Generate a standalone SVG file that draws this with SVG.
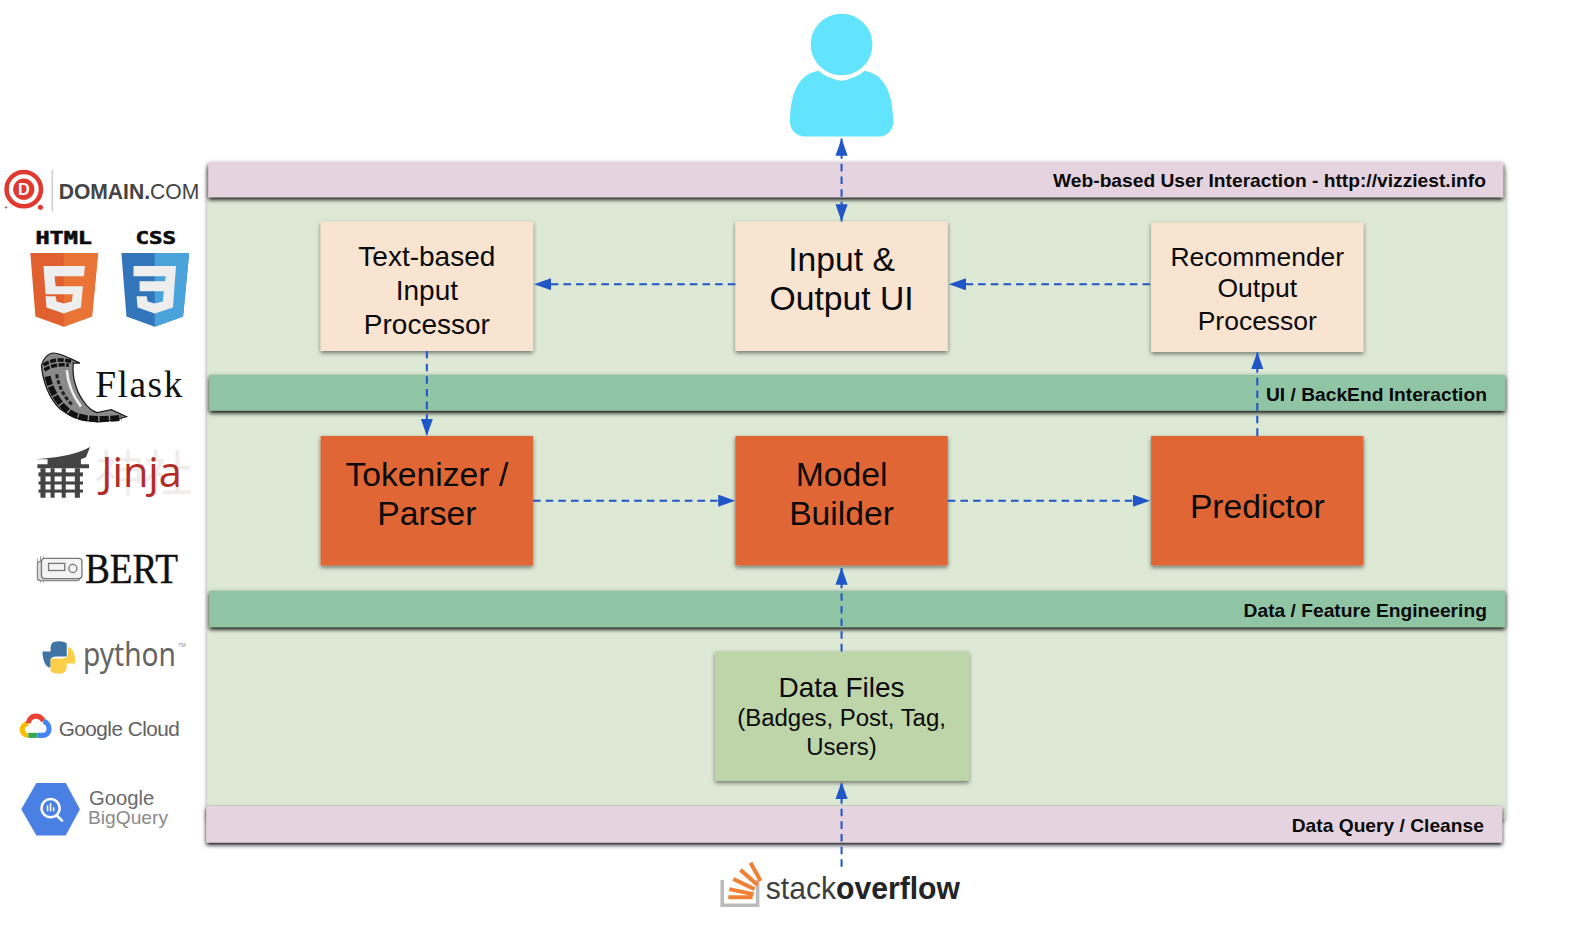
<svg xmlns="http://www.w3.org/2000/svg" width="1586" height="928" viewBox="0 0 1586 928">
<style>
text{font-family:"Liberation Sans",Arial,sans-serif;text-anchor:middle;fill:#0a0a0a}
.band{font-weight:bold;font-size:19px;text-anchor:end}
.n{font-size:27.700px}.l{font-size:33.300px}.m{font-size:26.200px}
.c{fill:none;stroke:#2156c9;stroke-width:2;stroke-dasharray:7.500 5}
.gl{fill:#616161;text-anchor:start}
</style>
<defs>
<filter id="sh" x="-5%" y="-10%" width="110%" height="125%"><feDropShadow dx="0" dy="2" stdDeviation="2.200" flood-color="#000" flood-opacity=".5"/></filter>
<filter id="bs" x="-2%" y="-20%" width="104%" height="150%"><feDropShadow dx="0" dy="2.200" stdDeviation="2.200" flood-color="#000" flood-opacity="1"/></filter>
<marker id="a" markerUnits="userSpaceOnUse" markerWidth="18" markerHeight="14" refX="17" refY="6" orient="auto-start-reverse"><path d="M0 0L17 6L0 12Z" fill="#2156c9"/></marker>
</defs>
<rect width="1586" height="928" fill="#fff"/>
<g transform="scale(1.0115)">
<g id="layer-background"><rect x="205" y="165" width="1283" height="645" fill="#dde8d5" filter="url(#sh)"/></g>
<g id="band-web"><rect x="206" y="160" width="1280" height="35" fill="#e5d3df" filter="url(#bs)"/><text class="band" x="1469" y="185">Web-based User Interaction - http://vizziest.info</text></g>
<g id="band-ui"><rect x="207" y="370.500" width="1281" height="35.500" fill="#8fc5a5" filter="url(#bs)"/><text class="band" x="1470" y="396.500">UI / BackEnd Interaction</text></g>
<g id="band-data"><rect x="207" y="584" width="1281" height="36" fill="#8fc5a5" filter="url(#bs)"/><text class="band" x="1470" y="610">Data / Feature Engineering</text></g>
<g id="band-query"><rect x="204" y="797" width="1281" height="36" fill="#e5d3df" filter="url(#bs)"/><text class="band" x="1467" y="823">Data Query / Cleanse</text></g>
<g id="user"><path d="M814 70C826 83 838 83 850 70C872 69 883 90 883 120C883 129 877 135 868 135H797C788 135 781 129 781 120C781 90 792 69 814 70Z" fill="#62e4fe"/><circle cx="832" cy="44" r="32.500" fill="#62e4fe" stroke="#fff" stroke-width="4"/></g>
<g id="text-input"><rect x="317" y="219" width="210" height="128" fill="#f8e4d0" filter="url(#sh)"/><text class="n" x="422" y="263">Text-based</text><text class="n" x="422" y="297">Input</text><text class="n" x="422" y="330">Processor</text></g>
<g id="io-ui"><rect x="727" y="219" width="210" height="128" fill="#f8e4d0" filter="url(#sh)"/><text class="l" x="832" y="268">Input &amp;</text><text class="l" x="832" y="306">Output UI</text></g>
<g id="rec-output"><rect x="1138" y="220" width="210" height="128" fill="#f8e4d0" filter="url(#sh)"/><text class="m" x="1243" y="263">Recommender</text><text class="m" x="1243" y="294">Output</text><text class="m" x="1243" y="326">Processor</text></g>
<g id="tokenizer"><rect x="317" y="431" width="210" height="128" fill="#e16634" filter="url(#sh)"/><text class="l" x="422" y="480">Tokenizer /</text><text class="l" x="422" y="519">Parser</text></g>
<g id="model"><rect x="727" y="431" width="210" height="128" fill="#e16634" filter="url(#sh)"/><text class="l" x="832" y="480">Model</text><text class="l" x="832" y="519">Builder</text></g>
<g id="predictor"><rect x="1138" y="431" width="210" height="128" fill="#e16634" filter="url(#sh)"/><text class="l" x="1243" y="512">Predictor</text></g>
<g id="data-files"><rect x="707" y="644" width="251" height="128" fill="#bdd5a8" filter="url(#sh)"/><text class="n" x="832" y="689">Data Files</text><text style="font-size:23.700px" x="832" y="718">(Badges, Post, Tag,</text><text style="font-size:23.700px" x="832" y="746">Users)</text></g>
<g id="connectors">
<path class="c" d="M832 137V219" marker-start="url(#a)" marker-end="url(#a)"/>
<path class="c" d="M727 281H528" marker-end="url(#a)"/>
<path class="c" d="M1137 281H938" marker-end="url(#a)"/>
<path class="c" d="M422 347V431" marker-end="url(#a)"/>
<path class="c" d="M1243 431V348" marker-end="url(#a)"/>
<path class="c" d="M527 495H727" marker-end="url(#a)"/>
<path class="c" d="M937 495H1137" marker-end="url(#a)"/>
<path class="c" d="M832 644V561" marker-end="url(#a)"/>
<path class="c" d="M832 857V773" marker-end="url(#a)"/>
</g>
<g id="logo-domain">
<circle cx="23.500" cy="187" r="17" fill="none" stroke="#e0392f" stroke-width="4.500"/><circle cx="23.500" cy="187" r="10.500" fill="#e0392f"/><text x="23.500" y="193" style="font-size:16px;font-weight:bold;fill:#fff">D</text><circle cx="40" cy="205" r="2.500" fill="#e0392f"/><circle cx="6" cy="205" r="1.200" fill="#888"/>
<rect x="51" y="168" width="1.500" height="41" fill="#ccc"/>
<text x="58" y="197" style="font-size:21px;font-weight:bold;fill:#444;text-anchor:start" textLength="139" lengthAdjust="spacingAndGlyphs">DOMAIN.<tspan font-weight="normal">COM</tspan></text>
</g>
<g id="logo-html"><text x="63" y="241" style="font-size:17px;font-weight:bold;font-family:'DejaVu Sans Mono',monospace;stroke:#111;stroke-width:.6px" textLength="56" lengthAdjust="spacingAndGlyphs">HTML</text>
<path d="M30 250H97L91 313L63 323L35 313Z" fill="#e0602f"/><path d="M63 250H97L91 313L63 323Z" fill="#ea7435"/>
<path d="M43 263H84L83 273H54L55 283H82L80 304L63 310L46 304L45 293H55L56 298L63 300L71 298L72 291H45Z" fill="#eee"/></g>
<g id="logo-css"><text x="154" y="241" style="font-size:17px;font-weight:bold;font-family:'DejaVu Sans Mono',monospace;stroke:#111;stroke-width:.6px" textLength="40" lengthAdjust="spacingAndGlyphs">CSS</text>
<path d="M120 250H187L181 313L153 323L125 313Z" fill="#3375ba"/><path d="M153 250H187L181 313L153 323Z" fill="#4ba3db"/>
<path d="M132 263H174L171 304L153 310L136 304L135 293H145L146 298L153 300L161 298L162 288H138V278H163L164 273H132Z" fill="#eee"/></g>
<g id="logo-flask">
<path d="M41 361C43 354 48 349 53 349C60 349 66 353 79 359L72.500 359C71 372 75 386 82 396C86 402 90 406 96 408L110 405L125 412C115 415 105 417 96 417C80 416 68 411 59 404C48 393 42 376 41 361Z" fill="#8a8a8a" stroke="#1a1a1a" stroke-width="1.200"/>
<path d="M43 361C50 356 60 354 72 358M44 366C50 361 60 360 68 361" fill="none" stroke="#111" stroke-width="3.500" stroke-dasharray="6 1.500"/>
<path d="M47 372C50 386 58 399 68 407C78 414 92 416 120 413" fill="none" stroke="#111" stroke-width="6" stroke-dasharray="9 1.500"/>
<path d="M56 370C58 382 63 392 72 401" fill="none" stroke="#222" stroke-width="3" stroke-dasharray="4 2"/>
<path d="M66 366C67 378 71 390 80 402" fill="none" stroke="#eee" stroke-width="2.500"/>
<text x="138" y="392" style="font-family:'Liberation Serif',serif;font-size:37px;fill:#111;letter-spacing:1.500px">Flask</text></g>
<g id="logo-jinja">
<text x="142" y="485" style="font-family:'Noto Sans CJK JP',sans-serif;font-size:48px;fill:#f1ecec">神社</text>
<path d="M35 454C50 453 74 451 89 442L85 452L80 454V459H88V463H37V459H47V454Z" fill="#444"/><rect x="38" y="467" width="44" height="4" fill="#444"/><rect x="38" y="476" width="44" height="3" fill="#444"/><rect x="38" y="484" width="44" height="3" fill="#444"/><path d="M40 463h5v29h-5zM50 463h4v29h-4zM61 463h4v29h-4zM74 463h5v29h-5z" fill="#444"/>
<text x="140" y="481" style="font-family:'Open Sans',sans-serif;font-size:41px;fill:#b22b28">Jinja</text></g>
<g id="logo-bert">
<path d="M37 552v22M40 550v26M43 550v26" stroke="#999" stroke-width="1" fill="none"/><rect x="37" y="555" width="42" height="19" rx="3" fill="#ddd" stroke="#888" stroke-width="1.200"/><rect x="41" y="552" width="40" height="20" rx="3" fill="#f4f4f4" stroke="#777" stroke-width="1.300"/><rect x="48" y="557" width="16" height="7" fill="none" stroke="#777" stroke-width="1.300"/><circle cx="72" cy="562" r="4" fill="none" stroke="#777" stroke-width="1.300"/>
<text x="130" y="576" style="font-family:'Liberation Serif',serif;font-size:41px;fill:#111;stroke:#111;stroke-width:.4px" textLength="92" lengthAdjust="spacingAndGlyphs">BERT</text></g>
<g id="logo-python">
<path d="M58 634C50 634 50 638 50 644H42C42 650 44 660 50 660V653C50 649 54 649 58 649H66V637C66 635 62 634 58 634Z" fill="#3f75a6"/>
<path d="M58 666C66 666 66 662 66 656H74C75 650 73 640 67 640V647C67 651 62 651 58 651H50V663C50 665 54 666 58 666Z" fill="#fbcf49"/>
<text x="82" y="658" style="font-family:'Noto Sans',sans-serif;font-size:32px;fill:#646464;text-anchor:start" textLength="92" lengthAdjust="spacingAndGlyphs">python</text><text x="180" y="640" style="font-size:5px;fill:#888">TM</text></g>
<g id="logo-gcloud">
<path d="M28 727C20 727 20 716 28 715" fill="none" stroke="#fbbc05" stroke-width="5"/><path d="M28 715C29 706 40 706 43 713" fill="none" stroke="#ea4335" stroke-width="5"/><path d="M43 713C51 716 50 727 42 727H37" fill="none" stroke="#4285f4" stroke-width="5"/><path d="M37 727H28" fill="none" stroke="#34a853" stroke-width="5"/>
<text class="gl" x="58" y="728" style="font-size:20.500px;letter-spacing:-.5px">Google Cloud</text></g>
<g id="logo-bq">
<path d="M21 800L36 774H65L79 800L65 826H36Z" fill="#4a80e4"/><circle cx="50" cy="799" r="9" fill="none" stroke="#fff" stroke-width="2.500"/><path d="M56 806L62 812" stroke="#fff" stroke-width="2.500"/><path d="M47 796v6M50 794v8M53 798v4" stroke="#fff" stroke-width="1.500"/>
<text class="gl" x="88" y="796" style="font-size:20px;fill:#6a6a6a">Google</text><text class="gl" x="87" y="815" style="font-size:19px;fill:#8a8a8a">BigQuery</text></g>
<g id="logo-so">
<path d="M714 870V895H749V870" fill="none" stroke="#bcbbbb" stroke-width="3.500"/>
<path d="M720 887H744M721 879L745 884M725 869L746 879M732 860L749 875M742 853L752 871" fill="none" stroke="#ef8236" stroke-width="4"/>
<text x="757" y="889" style="font-size:31px;fill:#3d3f42;text-anchor:start" textLength="192" lengthAdjust="spacingAndGlyphs">stack<tspan font-weight="bold" fill="#222426">overflow</tspan></text></g>
</g>
</svg>
